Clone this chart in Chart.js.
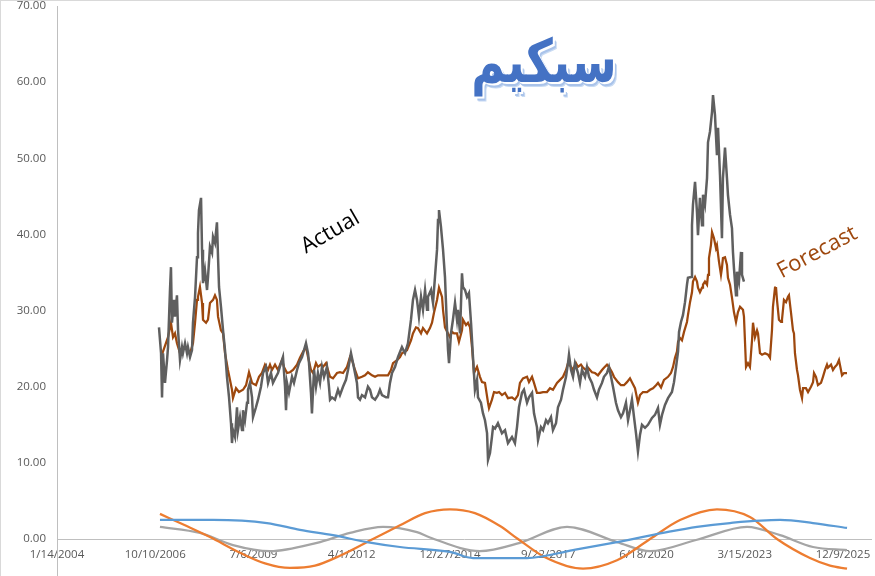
<!DOCTYPE html>
<html lang="ar">
<head>
  <meta charset="UTF-8">
  <title>سبكيم</title>
  <script src="https://cdn.jsdelivr.net/npm/chart.js"></script>
  <style>
    html, body { margin: 0; padding: 0; background: #fff; overflow: hidden; }
    #wrap { position: relative; width: 875px; height: 576px; }
    #wrap canvas { position: absolute; left: 0; top: 0; }
    .frame { position: absolute; left: 0; top: 0; width: 875px; height: 576px; box-sizing: border-box;
             border-top: 1px solid #d9d9d9; border-left: 1px solid #d9d9d9; pointer-events: none; }
    .axisTail { position: absolute; left: 57px; top: 539px; width: 1px; height: 37px; background: #bfbfbf; }
    .note { position: absolute; white-space: nowrap; transform-origin: center; font-family: "Open Sans", sans-serif; }
    #title { left: 544px; top: 61px; transform: translate(-50%, -50%) scaleY(1.3); direction: rtl;
             font: bold 46px "DejaVu Sans", sans-serif; color: #4472c4;
             text-shadow: 2px 2px 0 #fff, 3px 3px 0 #a9c3ea, 4px 4px 0 #c9dbf3; }
    #lblActual { left: 329px; top: 230px; transform: translate(-50%, -50%) rotate(-30deg); font-size: 22px; color: #000; }
    #lblForecast { left: 816px; top: 250px; transform: translate(-50%, -50%) rotate(-28deg); font-size: 22px; color: #9e480e; }
  </style>
</head>
<body>
  <div id="wrap">
    <canvas id="chart" width="875" height="576"></canvas>
    <div class="frame"></div>
    <div class="axisTail"></div>
    <div id="title" class="note">سبكيم</div>
    <div id="lblActual" class="note">Actual</div>
    <div id="lblForecast" class="note">Forecast</div>
  </div>

  <script>
    // x values are days counted from 1/14/2004
    const startDate = Date.UTC(2004, 0, 14);
    const xTickDays = [0, 1000, 2000, 3000, 4000, 5000, 6000, 7000, 8000];
    const yTickValues = [0, 10, 20, 30, 40, 50, 60, 70];

    const actualDays = [
      1038,1059,1069,1079,1099,1120,1130,1150,1160,1170,1191,1201,1221,1232,1252,1272,1282,1303,1323,1333,
      1354,1374,1384,1405,1425,1435,1445,1466,1476,1486,1506,1527,1537,1557,1578,1588,1608,1628,1639,1649,
      1669,1690,1710,1730,1751,1771,1781,1791,1812,1832,1842,1863,1883,1893,1913,1934,1944,1964,1985,1995,
      2025,2046,2076,2097,2127,2148,2178,2198,2229,2249,2280,2300,2321,2331,2341,2361,2392,2412,2443,2463,
      2494,2514,2534,2555,2565,2585,2595,2616,2636,2656,2677,2697,2718,2748,2768,2779,2799,2829,2860,2880,
      2911,2941,2962,2992,3013,3033,3053,3064,3084,3104,3135,3165,3186,3206,3237,3267,3287,3308,3349,3369,
      3389,3410,3440,3471,3511,3542,3572,3603,3623,3644,3664,3684,3705,3725,3746,3766,3776,3807,3827,3847,
      3868,3878,3888,3908,3929,3949,3969,3980,3990,4010,4030,4051,4071,4081,4102,4122,4132,4153,4173,4193,
      4214,4234,4254,4275,4285,4315,4336,4356,4377,4387,4407,4427,4438,4458,4488,4529,4560,4590,4631,4661,
      4682,4702,4733,4753,4784,4804,4835,4855,4885,4896,4926,4947,4977,4997,5028,5048,5079,5099,5130,5150,
      5181,5201,5211,5232,5252,5272,5303,5323,5343,5374,5394,5415,5445,5466,5496,5516,5547,5567,5598,5618,
      5639,5659,5689,5710,5740,5761,5791,5812,5832,5852,5873,5893,5913,5934,5954,5985,6015,6056,6086,6117,
      6137,6158,6188,6219,6259,6280,6300,6321,6331,6351,6371,6392,6412,6422,6453,6463,6473,6494,6514,6524,
      6544,6565,6575,6595,6616,6626,6646,6667,6677,6697,6717,6728,6748,6768,6778,6799,6819,6829,6850,6870,
      6880,6890,6911,6921,6941,6962,6972,6992
    ];
    const actualValues = [
      27.8,24.4,18.6,24.4,20.5,23.5,25.2,32.7,35.7,28.4,31.4,29.2,32,27.4,23.5,25.2,24.4,25.7,24.4,25.2,
      23.9,24.8,28.4,31.8,37,40.2,43.2,44.8,38,33.6,35.3,32.7,34.4,38.4,37.6,39.7,38.9,41.6,37,33.1,
      30.5,27.4,24.8,21.3,18.6,15.2,12.6,14.3,13.4,17.3,14.3,16,14.3,16.9,15.6,17.9,19.6,20.5,18.6,16,
      17.3,18.3,20,21.8,22.6,20.5,21.8,20.5,21.3,21.8,23.1,23.9,20,16.9,20.5,19.2,21.3,20.5,22.2,23.1,
      23.9,24.8,25.7,24.4,23.1,19.2,16.5,22.2,20,21.8,20.5,22.6,21.3,22.6,20,18.3,18.6,18.3,19.6,18.9,
      20,20.9,22.2,24.4,23.1,21.8,20.5,18.6,18.3,18.9,18.6,20,19.6,18.6,18.3,18.9,19.6,18.9,18.6,18.6,
      20.5,21.8,22.6,23.9,25.2,24.4,25.7,28.8,31.4,32.7,31.4,29.2,31.8,30.1,32.7,30.1,31.8,32.7,31,34.4,
      38,41.9,43.2,41,38,34.4,27.8,24.8,23.1,27,28.8,31,28.8,30.1,27,34.9,33.1,32.7,31.8,32.3,
      28.4,23.9,19.6,20.9,18.6,17.9,16.5,15.6,13.9,10.4,11.3,13.4,14.7,14.5,15.2,13.9,14.3,12.6,13.4,12.6,
      14.7,17.3,19.2,19.6,17.9,18.6,19.2,16.5,14.7,13,14.7,14.3,15.6,15.2,16,14.3,15.2,17.3,18.3,19.6,
      21.3,23.1,24.2,22.2,21.3,23.1,21.8,20.5,22.2,21.3,22.6,21.3,20.5,19.6,18.6,19.6,20.5,21.3,21.8,22.6,
      21.3,20,17.9,16.9,16,16.5,17.9,15.6,16.9,18.3,16,13.9,11.5,13.7,15,14.6,15,15.9,16.3,17.2,
      15,16.3,17.6,18.5,19.3,20.6,22.5,24.6,27.2,28.5,29.4,31.1,33.4,34.3,34.4,41.2,43.9,46.9,42.9,39.9,
      44.8,41.2,45.2,43.9,47.4,52.1,53.5,56.1,58.3,55.7,50.4,54,47.8,39.5,47.4,51.4,47.4,45.2,42.6,40.8,
      37.7,35.6,32,35.1,33.8,37.7,34.7,33.8
    ];

    const forecastDays = [
      1059,1130,1160,1181,1201,1221,1252,1282,1323,1354,1384,1405,1425,1435,1455,1476,1486,1517,1537,1557,
      1588,1608,1628,1639,1669,1690,1710,1740,1781,1791,1822,1852,1893,1924,1954,1985,2025,2056,2086,2117,
      2148,2168,2188,2219,2249,2270,2290,2310,2341,2371,2402,2443,2473,2504,2534,2555,2585,2606,2636,2656,
      2687,2707,2738,2758,2779,2809,2850,2880,2911,2952,2982,3003,3033,3064,3104,3135,3165,3206,3237,3267,
      3308,3338,3369,3399,3420,3461,3491,3511,3562,3603,3623,3654,3674,3705,3725,3766,3796,3817,3837,3868,
      3888,3919,3929,3949,3980,4000,4020,4041,4071,4091,4122,4132,4163,4183,4204,4224,4244,4275,4305,4326,
      4356,4387,4397,4427,4448,4478,4499,4529,4560,4590,4631,4661,4692,4712,4743,4784,4804,4835,4855,4885,
      4916,4947,4987,5018,5048,5089,5120,5150,5181,5201,5232,5252,5282,5303,5333,5354,5384,5405,5445,5476,
      5506,5547,5567,5598,5618,5649,5669,5710,5740,5771,5801,5832,5852,5883,5913,5934,5964,6005,6036,6066,
      6097,6117,6148,6178,6219,6249,6270,6290,6310,6321,6341,6361,6382,6412,6422,6443,6463,6473,6494,6514,
      6524,6544,6565,6575,6595,6616,6626,6636,6656,6667,6687,6707,6717,6738,6758,6768,6778,6799,6819,6829,
      6850,6870,6890,6911,6931,6952,6982,6992,7013,7033,7053,7074,7084,7104,7125,7135,7155,7176,7206,7237,
      7257,7277,7287,7308,7318,7328,7348,7369,7379,7399,7420,7440,7450,7471,7491,7501,7511,7532,7542,7562,
      7583,7593,7623,7644,7674,7695,7705,7725,7745,7776,7796,7817,7837,7847,7878,7898,7918,7939,7959,7990,
      8010,8041
    ];
    const forecastValues = [
      23.9,26.5,28.4,26.5,27,25.7,24.4,25.2,25,24.4,25.7,28.4,31.4,31.8,33.1,31,28.8,28.4,28.8,31,
      31.4,32,31.4,29.2,27.4,27,24.4,22.2,19.6,18.5,19.8,19.3,19.6,20.2,21.9,20.5,20.2,21.3,21.8,22.9,
      22.2,22.9,22.2,22.9,22.2,22.9,23.5,22.6,21.8,21.9,22.2,22.9,23.8,24.6,25.2,23.9,22.2,21.8,23.1,22.6,
      22.9,22.6,23.1,22.2,21.3,21.1,21.8,21.9,21.8,22.6,23.9,23.5,22.2,21.1,21.3,21.5,21.9,21.5,21.3,21.5,
      21.5,21.5,21.5,22.2,23.1,23.5,23.9,24.4,24.8,26.1,27,27.8,27.7,27,27.7,27,27.7,28.4,29.7,31.4,
      33,31.8,30.1,27.8,27,26.5,27.2,27,27,25.9,27.4,28.8,28.1,28.4,27.8,25.2,21.8,22.6,21.3,20.6,
      20.5,17.9,17.2,18.3,19.3,19.2,19.3,18.9,19.2,18.5,18.6,18.3,18.9,20.5,21.1,21.3,20.6,21.3,20.5,19.2,
      19.2,19.3,19.3,19.8,19.6,20.5,20.9,21.3,22.2,23.1,22.6,22.2,23.1,22.6,22.9,22.5,22.2,22.5,21.9,21.8,
      21.5,22.2,22.5,22.9,22.6,21.9,21.3,20.6,20.2,20.2,20.6,21.1,20.6,19.8,17.9,18.9,19.3,19.3,19.6,19.8,
      20.2,20.5,19.9,20.9,21.3,21.8,22.6,23.8,24.6,25.9,26.4,26.1,27.2,28.5,29.4,31.1,32.4,33.8,34.4,33.8,
      33,32.4,33,33.4,33.8,33.4,34.7,36.9,38.6,40.3,39.5,38.2,38.6,36.4,34.7,35.6,36.9,37,36,34.3,
      33.4,31.7,29.8,28.5,29.8,30.5,30.1,29.2,22.6,23.1,22.6,26.1,28.4,26.5,27.4,27,24.4,24.2,24.4,24.2,
      23.8,27.4,30.5,33,33.1,31.4,28.8,28.5,28.8,31.4,31.1,31.8,32,29.7,27.4,27,24.4,22.2,21.5,19.6,
      18.5,19.8,19.8,19.3,20,20.6,21.8,21.3,20.2,20.5,21.3,22.2,22.9,22.5,22.9,22.2,22.6,22.9,23.5,21.5,
      21.8,21.8
    ];

    // cyclical components around the zero line
    const cycleBlueDays = [1048,1588,2137,2473,2809,3155,3491,4000,4234,4784,5252,5700,6168,6514,6850,7359,7695,8041];
    const cycleBlueValues = [2.5,2.5,2.1,1.2,0.5,-0.4,-1.05,-1.7,-2.5,-2.5,-1.45,-0.4,0.8,1.6,2.1,2.5,2.1,1.45];

    const cycleOrangeDays = [1048,1303,1557,1863,2117,2371,2626,2880,3216,3491,3746,4000,4254,4509,4692,4967,5354,5700,6036,6341,6717,7053,7328,7664,7868,8041];
    const cycleOrangeValues = [3.3,1.8,0.26,-1.8,-3.2,-3.8,-3.5,-2.2,0,1.8,3.4,3.9,3.4,1.7,0,-2.4,-3.9,-2.8,0,2.5,3.9,2.9,0,-2.5,-3.5,-3.9];

    const cycleGrayDays = [1048,1455,1791,2168,2646,2982,3318,3664,3796,4305,4712,5191,5700,6036,6514,7023,7359,7695,8041];
    const cycleGrayValues = [1.6,0.8,-0.8,-1.6,-0.5,0.8,1.6,0.9,0.2,-1.6,-0.5,1.6,-0.4,-1.6,-0.1,1.6,0.5,-1.05,-1.45];

    function points(days, values) {
      return days.map((d, i) => ({ x: d, y: values[i] }));
    }

    function dayLabel(v) {
      const d = new Date(startDate + v * 86400000);
      return (d.getUTCMonth() + 1) + '/' + d.getUTCDate() + '/' + d.getUTCFullYear();
    }

    const tickFont = { family: 'Open Sans', size: 11.5 };

    const ctx = document.getElementById('chart').getContext('2d');
    new Chart(ctx, {
      type: 'line',
      data: {
        datasets: [
          { label: 'Actual', data: points(actualDays, actualValues), borderColor: '#5f5f5f', borderWidth: 2.5, tension: 0 },
          { label: 'Forecast', data: points(forecastDays, forecastValues), borderColor: '#9e480e', borderWidth: 2.25, tension: 0 },
          // the cycles dip below the zero axis, so they are not clipped to the plot
          { label: 'Cycle 1', data: points(cycleBlueDays, cycleBlueValues), borderColor: '#5b9bd5', borderWidth: 2.25, cubicInterpolationMode: 'monotone', clip: false },
          { label: 'Cycle 2', data: points(cycleOrangeDays, cycleOrangeValues), borderColor: '#ed7d31', borderWidth: 2.25, cubicInterpolationMode: 'monotone', clip: false },
          { label: 'Cycle 3', data: points(cycleGrayDays, cycleGrayValues), borderColor: '#a5a5a5', borderWidth: 2.25, cubicInterpolationMode: 'monotone', clip: false }
        ]
      },
      options: {
        responsive: false,
        animation: false,
        events: [],
        elements: { point: { radius: 0 } },
        layout: { padding: { top: 6, right: 4, bottom: 0, left: 0 } },
        plugins: { legend: { display: false }, tooltip: { enabled: false } },
        scales: {
          x: {
            type: 'linear',
            position: 'bottom',
            z: 1,
            min: 0,
            max: 8285,
            grid: { display: false, drawTicks: false },
            border: { display: true, color: '#bfbfbf', width: 1 },
            afterBuildTicks: scale => { scale.ticks = xTickDays.map(v => ({ value: v })); },
            afterFit: scale => { scale.height = 37; scale.paddingLeft = 0; scale.paddingRight = 0; },
            ticks: {
              autoSkip: false,
              maxRotation: 0,
              padding: 9,
              color: '#595959',
              font: tickFont,
              callback: v => dayLabel(v)
            }
          },
          y: {
            min: 0,
            max: 70,
            grid: { display: false, drawTicks: false },
            border: { display: true, color: '#bfbfbf', width: 1 },
            afterBuildTicks: scale => { scale.ticks = yTickValues.map(v => ({ value: v })); },
            afterFit: scale => { scale.width = 57; scale.paddingTop = 0; scale.paddingBottom = 0; },
            ticks: {
              padding: 11,
              color: '#595959',
              font: tickFont,
              callback: v => v.toFixed(2)
            }
          }
        }
      }
    });
  </script>
</body>
</html>
